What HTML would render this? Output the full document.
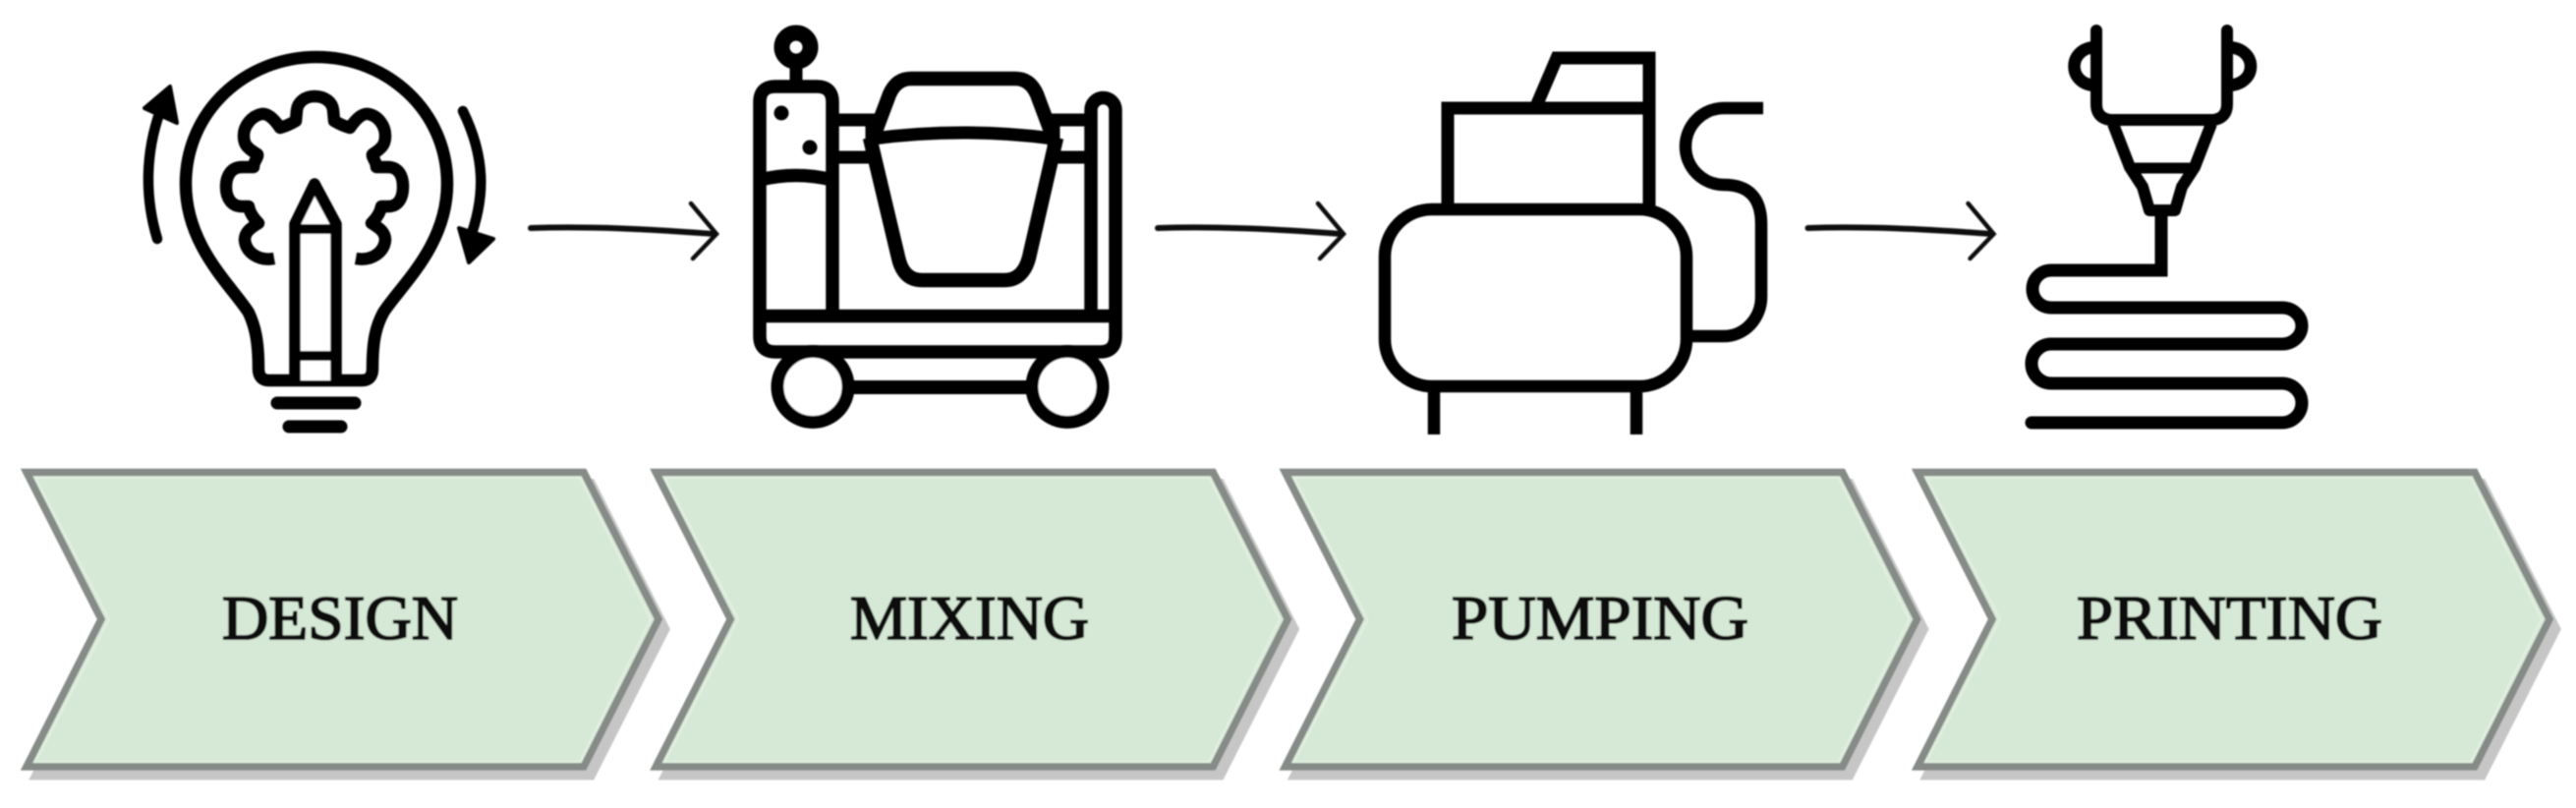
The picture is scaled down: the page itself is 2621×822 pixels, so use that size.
<!DOCTYPE html>
<html><head><meta charset="utf-8"><style>
html,body{margin:0;padding:0;background:#fff;width:2621px;height:822px;overflow:hidden}
svg{display:block;position:absolute;left:0;top:0}
text{font-family:"Liberation Serif",serif;font-size:64px;fill:#111;stroke:#111;stroke-width:2px}
</style></head><body>
<svg width="2621" height="822" viewBox="0 0 2621 822" xmlns="http://www.w3.org/2000/svg">
<defs>
<filter id="b" x="-5%" y="-5%" width="110%" height="110%"><feGaussianBlur stdDeviation="0.9"/></filter>
<g id="chev">
<path d="M27 480.5L594 480.5L670 630L594 780L27 780L103 630Z" transform="translate(8,10)" fill="#c6c6c6" stroke="#c6c6c6" stroke-width="7"/>
<path d="M27 480.5L594 480.5L670 630L594 780L27 780L103 630Z" fill="#d6e8d6" stroke="#868b87" stroke-width="7.5"/>
<path d="M36 486L590 486L662 630L590 775L36 775L111 630Z" fill="none" stroke="#e3f0e1" stroke-width="2"/>
</g>
<g id="arr" fill="none" stroke="#111" stroke-linecap="round">
<path d="M540 232C600 230 660 233 727 238" stroke-width="6"/>
<path d="M703 207L729 238L705 263" stroke-width="4.5" stroke-linejoin="miter"/>
</g>
</defs>
<g filter="url(#b)">
<use href="#chev"/><use href="#chev" x="640.3"/><use href="#chev" x="1280.6"/><use href="#chev" x="1924"/>

<!-- bulb -->
<g fill="none" stroke="#000" stroke-width="12.5" stroke-linecap="round" stroke-linejoin="round">
<path d="M263 375C263 345 259 331 253 318C235 290 189 250 189 187C189 113 250 58 322 58C394 58 455 113 455 187C455 250 408 290 390 318C383 331 379 345 379 375Q379 387 368 387L274 387Q263 387 263 375Z"/>
<path d="M279 263C262 266 250 256 249 244C249 236 255 232 263 227C258 222 254 216 253 210L246 210C236 210 230 202 230 190C230 178 236 170 246 170L258 170C258 164 263 160 262 157C250 150 248 146 248 138C248 128 256 118 266 116C272 115 278 120 285 130C292 128 296 126 301 123L302 112C303 104 310 98 320 98C331 98 338 104 339 112L340 123C345 126 349 128 356 130C363 120 369 115 375 116C385 118 392 128 392 138C392 146 390 150 379 157C378 160 383 164 383 170L395 170C405 170 410 178 410 190C410 202 405 210 395 210L388 210C387 216 383 222 378 227C386 232 392 236 392 244C391 256 379 266 362 263" stroke-linecap="butt"/>
<path d="M300 387L300 228L320 187L342 228L342 387" stroke-width="11.5" fill="#fff"/>
<path d="M300 233L342 233M300 362L342 362" stroke-width="10"/>
<path d="M282 410L361 410M294 434L347 434" stroke-width="13"/>
<path d="M160 243C147 200 148 155 163 113M471 113C494 160 494 200 478 243" stroke-width="10.5"/>
</g>
<path d="M173 88L147 110L180 125Z" fill="#000" stroke="#000" stroke-width="4" stroke-linejoin="round"/>
<path d="M467 232L502 243L477 267Z" fill="#000" stroke="#000" stroke-width="4" stroke-linejoin="round"/>

<use href="#arr"/><use href="#arr" x="638"/><use href="#arr" x="1299.5"/>

<!-- mixer -->
<g fill="none" stroke="#000" stroke-width="13.5" stroke-linejoin="round">
<path d="M847 322L847 104Q847 88 831 88L789 88Q773 88 773 104L773 342Q773 358 789 358L1119 358Q1135 358 1135 342L1135 112A12.5 12.5 0 0 0 1110 112L1110 322"/>
<path d="M773 321.5L1135 321.5"/>
<path d="M773 183Q810 174 847 183"/>
<circle cx="810" cy="48" r="14.5" stroke-width="16"/>
<path d="M810 65L810 88" stroke-width="13"/>
<path d="M847 122L892 122M1067 122L1110 122M847 160L890 160M1072 160L1110 160" stroke-width="13"/>
<path d="M887 122L887 160M1072 122L1072 160" stroke-width="13"/>
<path d="M890 136L905 96Q912 80 927 80L1033 80Q1048 80 1055 96L1070 136" stroke-width="14.5"/>
<path d="M888 141Q980 129 1072 141" stroke-width="13"/>
<path d="M885 140L914 262Q919 285 938 285L1022 285Q1041 285 1047 262L1075 140" stroke-width="14.5"/>
<circle cx="827" cy="393.5" r="36" fill="#fff" stroke-width="13"/>
<circle cx="1086" cy="393.5" r="36" fill="#fff" stroke-width="13"/>
<path d="M866 394L1047 394" stroke-width="14"/>
</g>
<circle cx="795" cy="115" r="7.5" fill="#000"/><circle cx="824" cy="150" r="7.5" fill="#000"/>

<!-- pump -->
<g fill="none" stroke="#000" stroke-width="12.5">
<rect x="1409" y="213" width="307" height="180" rx="48" ry="48"/>
<path d="M1473 213L1473 110L1678 110L1678 213" stroke-linejoin="miter" stroke-width="13"/>
<path d="M1563 108L1584 59L1678 59L1678 110" stroke-linejoin="miter" stroke-width="13"/>
<path d="M1794 110L1754 110A39 39 0 0 0 1754 188Q1792 188 1792 228L1792 302A38 40 0 0 1 1754 342L1716 342"/>
<path d="M1459 393L1459 442M1665 393L1665 442"/>
</g>

<!-- printer -->
<g fill="none" stroke="#000" stroke-width="12" stroke-linejoin="round">
<path d="M2133 31L2133 106Q2133 120 2147 122L2252 122Q2266 120 2266 106L2266 31" stroke-linecap="round"/>
<path d="M2133 48C2103 48 2103 87 2133 87M2266 48C2298 48 2298 87 2266 87" stroke-width="12.5"/>
<path d="M2150 126L2167 170L2180 190L2187 214L2213 214L2220 190L2233 170L2250 126" stroke-width="12"/>
<path d="M2167 171L2233 171" stroke-width="11"/>
<path d="M2199 214L2199 275L2087 275A19 19 0 0 0 2087 313L2322 313A20 18.5 0 0 1 2322 350L2087 350A20 20 0 0 0 2087 390L2322 390A20 20 0 0 1 2322 430L2067 430" stroke-width="13" stroke-linejoin="miter"/>
</g>
<circle cx="2067" cy="430" r="6.5" fill="#000"/>

<text x="226" y="650" textLength="240" lengthAdjust="spacingAndGlyphs">DESIGN</text>
<text x="865" y="650" textLength="243" lengthAdjust="spacingAndGlyphs">MIXING</text>
<text x="1477" y="650" textLength="302" lengthAdjust="spacingAndGlyphs">PUMPING</text>
<text x="2113" y="650" textLength="311" lengthAdjust="spacingAndGlyphs">PRINTING</text>
</g>
</svg>
</body></html>
